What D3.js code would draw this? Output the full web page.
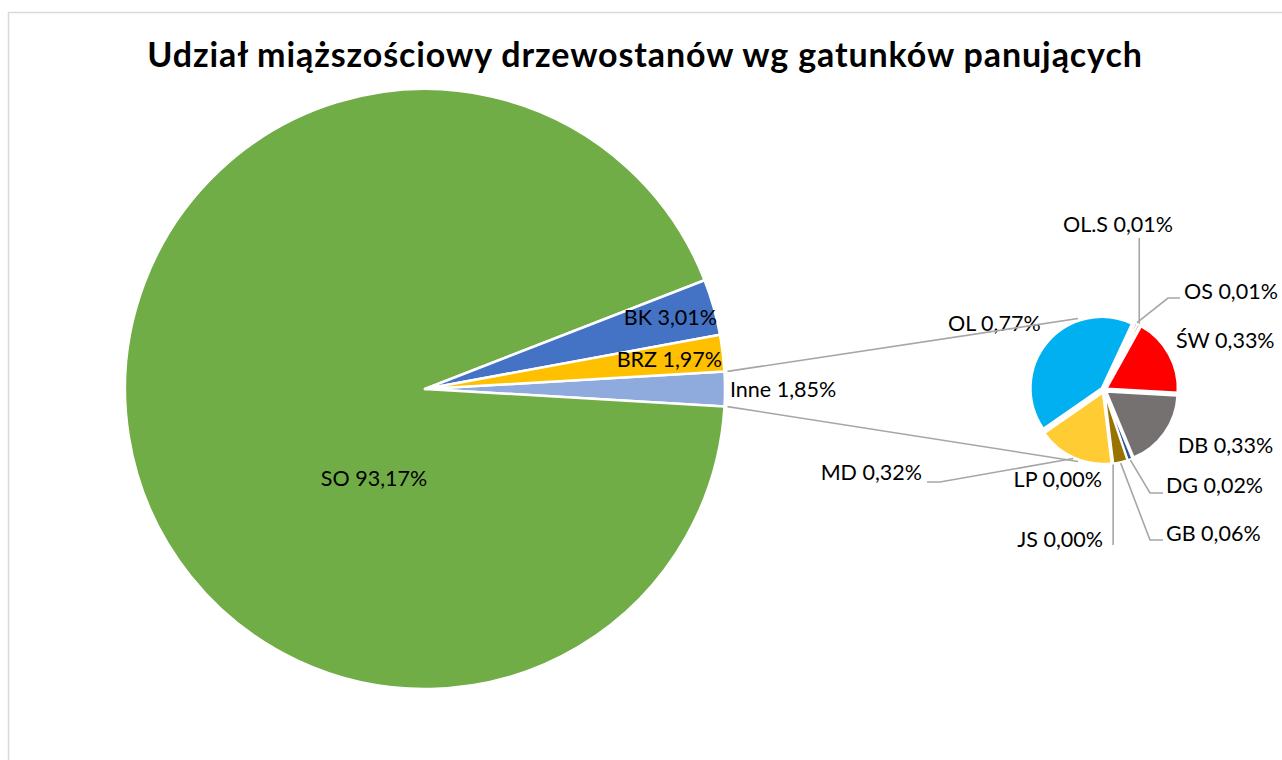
<!DOCTYPE html>
<html>
<head>
<meta charset="utf-8">
<script src="https://cdn.jsdelivr.net/npm/d3@7"></script>
<style>
  body { margin: 0; background: #fff; }
  svg { display: block; font-family: Lato, "Liberation Sans", sans-serif; }
  .lbl { font-size: 21.5px; fill: #000; }
  .leader { fill: none; stroke: #a6a6a6; stroke-width: 1.6; }
</style>
</head>
<body>
<svg id="chart" width="1282" height="760"></svg>
<script>
// main pie
var mainNames = ["Inne", "SO", "BK", "BRZ"];
var mainValues = [1.85, 93.17, 3.01, 1.97];
var mainLabels = ["Inne 1,85%", "SO 93,17%", "BK 3,01%", "BRZ 1,97%"];

// secondary pie ("Inne" broken down), clockwise
var subNames = ["ŚW", "DB", "DG", "GB", "JS", "LP", "MD", "OL", "OS", "OL.S"];
var subValues = [0.33, 0.33, 0.02, 0.06, 0.00, 0.00, 0.32, 0.77, 0.01, 0.01];
var subLabels = ["ŚW 0,33%", "DB 0,33%", "DG 0,02%", "GB 0,06%", "JS 0,00%", "LP 0,00%",
                 "MD 0,32%", "OL 0,77%", "OS 0,01%", "OL.S 0,01%"];

var mainColors = {"SO": "#70ad47", "BK": "#4472c4", "BRZ": "#ffc000", "Inne": "#8faadc"};
var subColors = {"ŚW": "#ff0000", "DB": "#767171", "DG": "#2f5597", "GB": "#997300",
                 "JS": "#bf9000", "LP": "#a9d18e", "MD": "#ffcd33", "OL": "#00b0f0",
                 "OS": "#7030a0", "OL.S": "#c55a11"};

var svg = d3.select("#chart");
var W = 1282, H = 760;

// chart border (runs off the right and bottom edge)
svg.append("rect")
  .attr("x", 8.5).attr("y", 12.5)
  .attr("width", W + 20).attr("height", H + 20)
  .attr("fill", "#fff")
  .attr("stroke", "#d9d9d9")
  .attr("stroke-width", 1.5);

svg.append("text")
  .attr("x", 645).attr("y", 67)
  .attr("text-anchor", "middle")
  .style("font-size", "34px")
  .style("font-weight", "bold")
  .style("letter-spacing", "0.9px")
  .text("Udział miąższościowy drzewostanów wg gatunków panujących");

var deg = Math.PI / 180;

// ---- main pie, "Inne" slice centred on 3 o'clock
var mc = {x: 425, y: 389}, mr = 300;
var total = d3.sum(mainValues);
var a0 = Math.PI / 2 - (mainValues[0] / total) * Math.PI;

var mainPie = d3.pie().sort(null).value(d => d.v)
  .startAngle(a0).endAngle(a0 + 2 * Math.PI);
var mainData = mainPie(mainNames.map((n, i) => ({n: n, v: mainValues[i], t: mainLabels[i]})));

var arcMain = d3.arc().innerRadius(0).outerRadius(mr);

var gm = svg.append("g").attr("transform", "translate(" + mc.x + "," + mc.y + ")");
gm.selectAll("path")
  .data(mainData)
  .enter()
  .append("path")
  .attr("d", arcMain)
  .attr("fill", d => mainColors[d.data.n])
  .attr("stroke", "#fff")
  .attr("stroke-width", 2.5)
  .attr("stroke-linejoin", "round");

// label placement relative to pie centre
var mainPos = {
  "SO":   {dx: -51, dy: 97, a: "middle"},
  "BK":   {dx: 292, dy: -64, a: "end"},
  "BRZ":  {dx: 297, dy: -22, a: "end"},
  "Inne": {dx: 305, dy: 8, a: "start"}
};
gm.selectAll("text")
  .data(mainData)
  .enter()
  .append("text")
  .attr("class", "lbl")
  .attr("x", d => mainPos[d.data.n].dx)
  .attr("y", d => mainPos[d.data.n].dy)
  .attr("text-anchor", d => mainPos[d.data.n].a)
  .text(d => d.data.t);

// ---- secondary pie
var sc = {x: 1104, y: 390}, sr = 71, explode = 3;
var s0 = 29 * deg;
var subPie = d3.pie().sort(null).value(d => d.v)
  .startAngle(s0).endAngle(s0 + 2 * Math.PI);
var subData = subPie(subNames.map((n, i) => ({n: n, v: subValues[i], t: subLabels[i]})));
var arcSub = d3.arc().innerRadius(0).outerRadius(sr);

function polar(a, r) { return [Math.sin(a) * r, -Math.cos(a) * r]; }
function mid(d) { return (d.startAngle + d.endAngle) / 2; }

var gs = svg.append("g").attr("transform", "translate(" + sc.x + "," + sc.y + ")");

// connector lines from "Inne" to the secondary pie
var inne = mainData[0];
var connectors = [
  [polar(inne.startAngle, mr + 3), polar(340 * deg, sr + explode + 2)],
  [polar(inne.endAngle, mr + 3), polar(200 * deg, sr + explode + 2)]
];
svg.selectAll("line.conn")
  .data(connectors)
  .enter()
  .append("line")
  .attr("class", "leader")
  .attr("x1", d => mc.x + d[0][0]).attr("y1", d => mc.y + d[0][1])
  .attr("x2", d => sc.x + d[1][0]).attr("y2", d => sc.y + d[1][1]);

gs.selectAll("path")
  .data(subData.filter(d => d.data.v > 0))
  .enter()
  .append("path")
  .attr("d", arcSub)
  .attr("transform", d => {
    var p = polar(mid(d), explode);
    return "translate(" + p[0] + "," + p[1] + ")";
  })
  .attr("fill", d => subColors[d.data.n])
  .attr("stroke", "#fff")
  .attr("stroke-width", 2)
  .attr("stroke-linejoin", "round");

// label spots relative to small pie centre; elbow = where the leader bends
var subPos = {
  "OL.S": {dx: 14, dy: -158, a: "middle", lead: "up", ly: -152},
  "OS":   {dx: 80, dy: -91, a: "start", lead: "elbow", ex: 64, ey: -92, tx: 76},
  "ŚW":   {dx: 72, dy: -42, a: "start"},
  "DB":   {dx: 74, dy: 63, a: "start"},
  "DG":   {dx: 62, dy: 103, a: "start", lead: "elbow", ex: 46, ey: 103, tx: 59},
  "GB":   {dx: 62, dy: 151, a: "start", lead: "elbow", ex: 46, ey: 150, tx: 59},
  "JS":   {dx: -1, dy: 157, a: "end", lead: "down", ly: 155},
  "LP":   {dx: -2, dy: 97, a: "end"},
  "MD":   {dx: -182, dy: 90, a: "end", lead: "elbow", ex: -164, ey: 92, tx: -177},
  "OL":   {dx: -156, dy: -59, a: "start"}
};

subData.forEach(function(d) {
  var p = subPos[d.data.n];
  var a = d.data.v > 0 ? mid(d) : d.startAngle;
  var e = polar(a, sr + explode + 1);
  if (p.lead == "up" || p.lead == "down") {
    gs.append("path").attr("class", "leader")
      .attr("d", d3.line()([e, [e[0], p.ly]]));
  } else if (p.lead == "elbow") {
    gs.append("path").attr("class", "leader")
      .attr("d", d3.line()([e, [p.ex, p.ey], [p.tx, p.ey]]));
  }
  gs.append("text")
    .attr("class", "lbl")
    .attr("x", p.dx).attr("y", p.dy)
    .attr("text-anchor", p.a)
    .text(d.data.t);
});
</script>
</body>
</html>
